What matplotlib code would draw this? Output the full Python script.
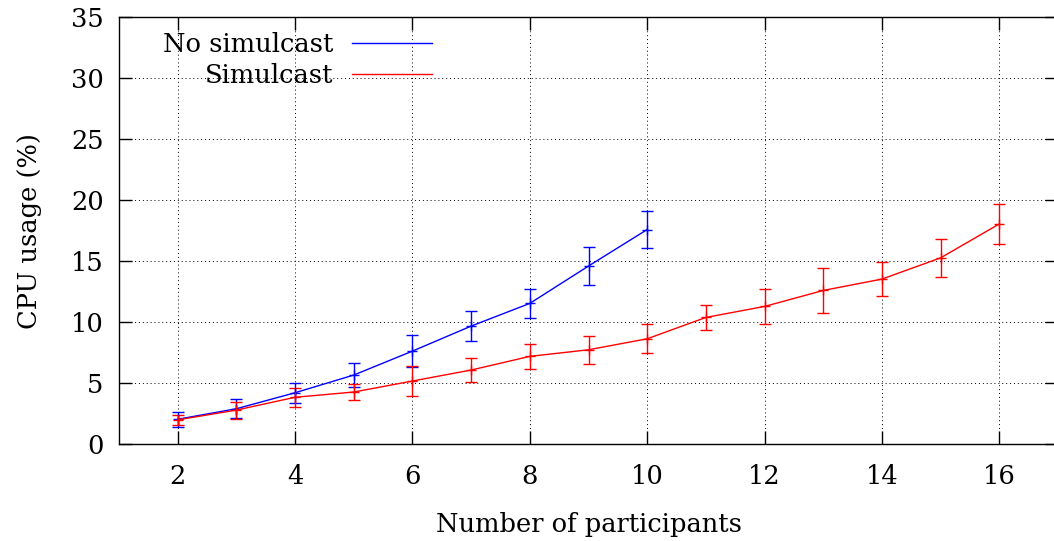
import matplotlib.pyplot as plt
from matplotlib.lines import Line2D

plt.rcParams['font.family'] = ['DejaVu Serif']
plt.rcParams['font.size'] = 18.5

# participants and CPU usage (%) with error (+/-)
x_nosim = [2, 3, 4, 5, 6, 7, 8, 9, 10]
y_nosim = [2.05, 2.91, 4.22, 5.67, 7.63, 9.68, 11.54, 14.6, 17.59]
e_nosim = [0.6, 0.76, 0.8, 1.0, 1.28, 1.24, 1.2, 1.56, 1.52]

x_sim = [2, 3, 4, 5, 6, 7, 8, 9, 10, 11, 12, 13, 14, 15, 16]
y_sim = [2.0, 2.8, 3.85, 4.28, 5.18, 6.08, 7.2, 7.74, 8.64, 10.39, 11.29, 12.6, 13.53, 15.27, 18.05]
e_sim = [0.4, 0.7, 0.8, 0.68, 1.25, 0.96, 1.03, 1.13, 1.2, 1.03, 1.4, 1.85, 1.42, 1.58, 1.65]

labels = ['No simulcast', 'Simulcast']
colors = ['#0000ff', '#ff0000']
xticks = [2, 4, 6, 8, 10, 12, 14, 16]
yticks = [0, 5, 10, 15, 20, 25, 30, 35]

fig = plt.figure(figsize=(10.54, 5.41), dpi=100)
ax = fig.add_axes([0.1129, 0.1788, 0.8909, 0.7898])

for xs, ys, es, c in [(x_nosim, y_nosim, e_nosim, colors[0]), (x_sim, y_sim, e_sim, colors[1])]:
    ax.errorbar(xs, ys, yerr=es, color=c, lw=1.0,
                marker='+', markersize=7, capsize=4.5, elinewidth=1.0, capthick=1.0,
                zorder=3)

ax.set_xlim(1, 17)
ax.set_ylim(0, 35)
ax.set_xticks(xticks)
ax.set_yticks(yticks)
ax.tick_params(direction='in', length=9.5, width=1, top=True, right=True, pad=11)
ax.tick_params(axis='x', pad=14.5)
ax.grid(True, color='black', linestyle=(0, (1, 3)), linewidth=0.7)
ax.set_axisbelow(True)
for s in ax.spines.values():
    s.set_linewidth(1.0)

ax.set_xlabel('Number of participants', labelpad=16)
ax.set_ylabel('CPU usage (%)', labelpad=21)

handles = [Line2D([], [], color=c, lw=1.0) for c in colors]
ax.legend(handles, labels, loc='upper right', bbox_to_anchor=(432 / 1054, 1 - 32 / 541),
          bbox_transform=fig.transFigure, frameon=False,
          markerfirst=False, handlelength=3.1, handletextpad=0.75,
          labelspacing=0.22, borderaxespad=0, borderpad=0)

fig.savefig('out.png', dpi=100)
